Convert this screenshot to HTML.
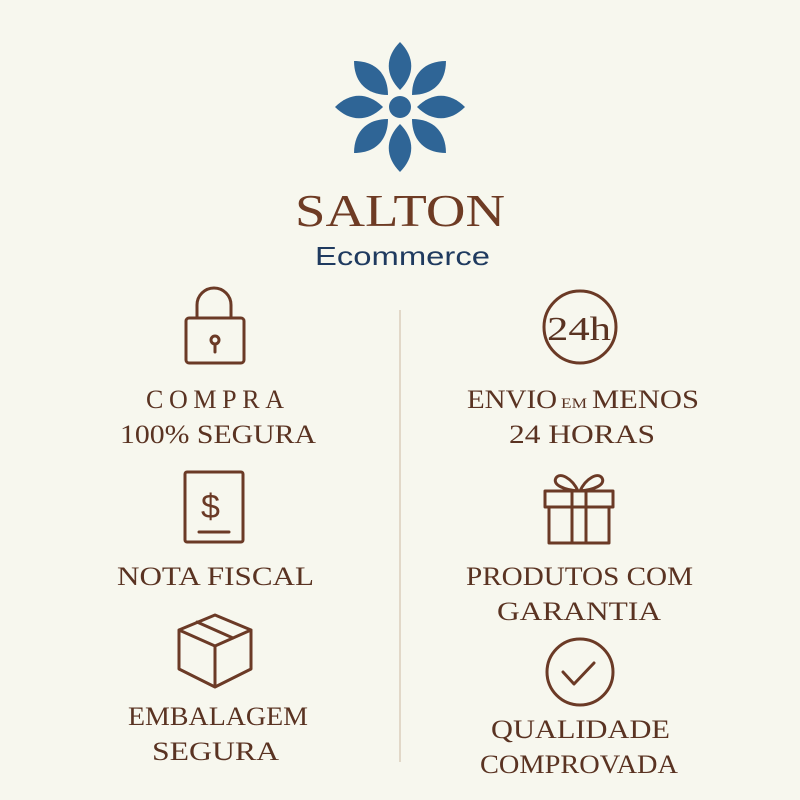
<!DOCTYPE html>
<html><head><meta charset="utf-8"><style>
html,body{margin:0;padding:0;background:#f7f7ee;}
svg{display:block}
.t{font-family:"Liberation Serif",serif;font-size:26px;fill:#5a3322;}
</style></head><body>
<svg width="800" height="800" viewBox="0 0 800 800" xmlns="http://www.w3.org/2000/svg">
<rect width="800" height="800" fill="#f7f7ee"/>
<g transform="translate(400,107)" fill="#2f6596">
<circle r="11"/>
<g id="p"><path d="M0,-17 C15,-32 15,-50 0,-65 C-15,-50 -15,-32 0,-17Z"/></g>
<use href="#p" transform="rotate(45)"/><use href="#p" transform="rotate(90)"/>
<use href="#p" transform="rotate(135)"/><use href="#p" transform="rotate(180)"/>
<use href="#p" transform="rotate(225)"/><use href="#p" transform="rotate(270)"/>
<use href="#p" transform="rotate(315)"/>
</g>
<text x="295" y="226" textLength="210" lengthAdjust="spacingAndGlyphs" font-family="Liberation Serif,serif" font-size="46" fill="#6e3b24">SALTON</text>
<text x="315" y="265" textLength="175" lengthAdjust="spacingAndGlyphs" font-family="Liberation Sans,sans-serif" font-size="26" fill="#1f3a5f">Ecommerce</text>
<line x1="400" y1="310" x2="400" y2="762" stroke="#e2d8c8" stroke-width="2"/>
<g fill="none" stroke="#6b3a26" stroke-width="3" stroke-linecap="round" stroke-linejoin="round">
<path d="M197,318 V305 A17,17 0 0 1 231,305 V318"/>
<rect x="186" y="318" width="58" height="45" rx="3"/>
<circle cx="215" cy="340" r="4"/><line x1="215" y1="344" x2="215" y2="352"/>
<rect x="185" y="472" width="58" height="70" rx="2"/>
<line x1="199" y1="532" x2="229" y2="532"/>
<path d="M215,615 L251,630 L215,646 L179,630 Z M179,630 V669 L215,687 L251,669 V630 M215,646 V687 M197,622 L233,638"/>
<circle cx="580" cy="327" r="36"/>
<path d="M578,491 C572,478 560,472 556,478 C552,485 565,490 578,491 M580,491 C586,478 598,472 602,478 C606,485 593,490 580,491"/>
<rect x="545" y="491" width="68" height="16"/>
<rect x="549" y="507" width="60" height="36"/>
<line x1="572" y1="491" x2="572" y2="543"/><line x1="586" y1="491" x2="586" y2="543"/>
<circle cx="580" cy="672" r="33"/>
<path d="M563,672 L574,684 L594,663"/>
</g>
<text x="201" y="518" font-family="Liberation Sans,sans-serif" font-size="34" fill="#6b3a26">$</text>
<text x="547" y="340" textLength="64" lengthAdjust="spacingAndGlyphs" class="t" style="font-size:34px">24h</text>
<text class="t" x="146" y="408" textLength="138" lengthAdjust="spacing">COMPRA</text>
<text class="t" x="120" y="443" textLength="196" lengthAdjust="spacingAndGlyphs">100% SEGURA</text>
<text class="t" x="117" y="585" textLength="197" lengthAdjust="spacingAndGlyphs">NOTA FISCAL</text>
<text class="t" x="128" y="725" textLength="180" lengthAdjust="spacingAndGlyphs">EMBALAGEM</text>
<text class="t" x="152" y="760" textLength="127" lengthAdjust="spacingAndGlyphs">SEGURA</text>
<text class="t" x="467" y="408" textLength="90" lengthAdjust="spacingAndGlyphs">ENVIO</text>
<text class="t" x="561" y="408" style="font-size:15px" textLength="26" lengthAdjust="spacingAndGlyphs">EM</text>
<text class="t" x="592" y="408" textLength="107" lengthAdjust="spacingAndGlyphs">MENOS</text>
<text class="t" x="509" y="443" textLength="146" lengthAdjust="spacingAndGlyphs">24 HORAS</text>
<text class="t" x="466" y="585" textLength="227" lengthAdjust="spacingAndGlyphs">PRODUTOS COM</text>
<text class="t" x="497" y="620" textLength="164" lengthAdjust="spacingAndGlyphs">GARANTIA</text>
<text class="t" x="491" y="738" textLength="179" lengthAdjust="spacingAndGlyphs">QUALIDADE</text>
<text class="t" x="480" y="773" textLength="198" lengthAdjust="spacingAndGlyphs">COMPROVADA</text>
</svg>
</body></html>
